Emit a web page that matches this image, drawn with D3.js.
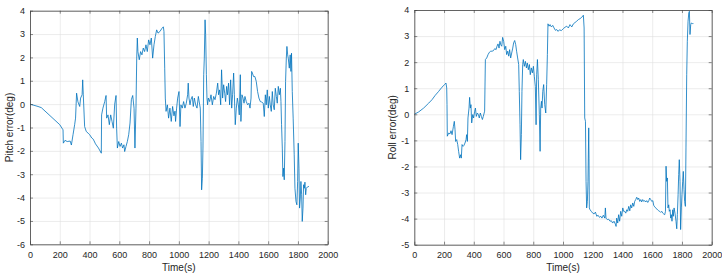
<!DOCTYPE html>
<html lang="en">
<head>
  <meta charset="utf-8">
  <title>Pitch and roll error</title>
  <script src="https://d3js.org/d3.v7.min.js"></script>
  <style type="text/css">
    body { margin: 0; background: #fff; }
    svg text { font-family: "Liberation Sans", Arial, sans-serif; fill: #262626; }
  </style>
</head>
<body>
  <script type="text/javascript">
    // x ticks shared by both panels
    var timeTicks = [0, 200, 400, 600, 800, 1000, 1200, 1400, 1600, 1800, 2000];
    var pitchTicks = [-6, -5, -4, -3, -2, -1, 0, 1, 2, 3, 4];
    var rollTicks = [-5, -4, -3, -2, -1, 0, 1, 2, 3, 4];

    // pitch error
    var pitchTime = [0, 54, 76, 200, 222, 224, 235, 250, 270, 278, 289, 300, 306, 313, 322, 334, 340, 350, 354, 358,
      367, 378, 390, 401, 415, 425, 440, 460, 479, 481, 490, 502, 511, 515, 524, 533, 542, 551, 560, 569,
      578, 582, 587, 596, 605, 614, 622, 631, 636, 645, 654, 663, 672, 681, 690, 699, 705, 712, 717, 721,
      725, 734, 743, 752, 761, 770, 779, 788, 797, 806, 815, 824, 833, 842, 851, 860, 873, 887, 896, 900,
      905, 909, 914, 923, 931, 940, 949, 958, 967, 974, 978, 985, 992, 1001, 1008, 1014, 1023, 1032, 1041, 1050,
      1059, 1063, 1068, 1075, 1081, 1090, 1097, 1104, 1113, 1122, 1131, 1140, 1144, 1149, 1153, 1158, 1162, 1167, 1171, 1176,
      1180, 1185, 1189, 1193, 1198, 1207, 1216, 1225, 1234, 1243, 1252, 1261, 1267, 1274, 1281, 1287, 1294, 1301, 1308, 1314,
      1321, 1327, 1334, 1341, 1348, 1355, 1361, 1368, 1373, 1379, 1386, 1393, 1400, 1406, 1413, 1417, 1424, 1431, 1438, 1444,
      1453, 1462, 1471, 1478, 1485, 1489, 1494, 1502, 1511, 1520, 1529, 1538, 1547, 1556, 1567, 1574, 1581, 1587, 1594, 1601,
      1608, 1614, 1621, 1628, 1634, 1641, 1648, 1655, 1661, 1668, 1675, 1682, 1686, 1690, 1695, 1699, 1704, 1708, 1713, 1717,
      1722, 1726, 1731, 1735, 1742, 1748, 1753, 1757, 1762, 1768, 1775, 1780, 1787, 1793, 1798, 1802, 1807, 1811, 1816, 1820,
      1825, 1829, 1834, 1838, 1843, 1847, 1852, 1856, 1863, 1874];
    var pitchVals = [0, -0.1, -0.15, -0.88, -1.1, -1.67, -1.55, -1.6, -1.58, -1.75, -1.31, -0.88, -0.6, 0.47, 0.1, -0.1, 0.26, 0.4, 1.04, 0.4,
      -0.96, -1.17, -1.24, -1.31, -1.45, -1.5, -1.7, -1.88, -2.1, -0.46, -0.17, 0.11, 0.37, -0.6, -0.46, -0.88, -0.46, -0.74, -1.03, 0.0,
      0.37, -1.03, -1.88, -1.6, -1.81, -1.67, -1.88, -1.74, -2.03, -1.81, -1.6, -1.31, -0.81, 0.19, 0.37, -0.17, -1.88, -0.17, 1.97, 2.83,
      2.25, 1.9, 2.25, 2.11, 2.4, 2.25, 2.54, 2.25, 2.75, 2.54, 2.83, 1.97, 2.54, 2.9, 3.18, 3.04, 3.11, 3.25, 3.31, 3.11,
      1.54, 0.26, -0.31, -0.03, -0.6, -0.17, -0.74, -0.1, -0.5, -0.3, -0.74, -0.17, 0.26, 0.54, -0.96, -0.03, -0.17, 0.11, -0.17, 0.04,
      0.4, 0.9, 0.26, -0.03, 0.19, 0.33, -0.1, 0.26, -0.03, -0.17, 0.33, -0.03, -0.17, -1.6, -3.67, -3.17, -1.88, 1.26, 1.97, 3.61,
      2.97, 1.26, 0.26, -0.03, 0.26, 0.11, 0.4, -0.03, 0.33, 0.19, 0.47, 0.9, 0.4, 0.61, -0.03, 1.47, 0.26, 0.83, 0.47, 0.11,
      0.76, 0.4, 0.9, -0.03, 1.04, -0.17, 0.4, 1.33, 0.4, -0.88, -0.17, 0.26, -0.03, -0.46, 1.26, -0.74, 0.4, 0.26, 0.04, 0.33,
      0.11, -0.03, 0.04, -0.17, 0.26, 1.4, 1.33, 1.18, 1.18, 0.97, 0.54, 0.26, 0.11, 0.09, 0.04, -0.53, 0.4, -0.03, 0.61, -0.17,
      0.33, -0.03, -0.31, 0.54, -0.03, -0.24, 0.68, 0.33, 0.04, 0.76, 0.4, 0.68, 0.11, -0.88, -1.88, -3.1, -2.74, -3.24, -1.6, 0.97,
      1.97, 2.47, 2.11, 1.97, 1.54, 2.11, 1.4, 2.18, 0.54, -0.6, -2.17, -3.6, -4.17, -4.31, -3.31, -1.67, -2.74, -4.45, -4.02, -3.31,
      -3.88, -5.02, -4.45, -3.45, -3.6, -3.34, -3.88, -3.6, -3.55, -3.52];

    // roll error
    var rollTime = [0, 29, 63, 97, 119, 141, 164, 186, 204, 213, 218, 220, 222, 231, 240, 247, 254, 263, 269, 274,
      278, 285, 292, 298, 305, 312, 316, 321, 328, 334, 341, 348, 352, 357, 361, 368, 372, 377, 381, 386,
      393, 399, 406, 411, 417, 424, 431, 437, 444, 451, 458, 464, 473, 478, 487, 496, 505, 514, 523, 532,
      541, 550, 556, 563, 570, 576, 581, 588, 594, 601, 608, 615, 621, 628, 635, 641, 648, 655, 662, 668,
      675, 682, 688, 695, 702, 706, 711, 715, 720, 724, 729, 733, 740, 747, 754, 760, 767, 774, 780, 787,
      794, 801, 807, 814, 819, 823, 828, 834, 841, 846, 850, 855, 859, 864, 870, 877, 884, 890, 895, 899,
      906, 913, 922, 931, 940, 949, 958, 967, 976, 989, 1003, 1014, 1025, 1036, 1047, 1059, 1070, 1081, 1092, 1103,
      1115, 1126, 1137, 1142, 1146, 1151, 1155, 1159, 1164, 1168, 1173, 1175, 1177, 1182, 1190, 1200, 1209, 1218, 1227, 1236,
      1245, 1254, 1262, 1271, 1281, 1285, 1289, 1298, 1307, 1316, 1325, 1334, 1343, 1352, 1357, 1361, 1368, 1374, 1381, 1388,
      1395, 1402, 1408, 1415, 1422, 1429, 1435, 1442, 1449, 1455, 1462, 1469, 1476, 1482, 1489, 1496, 1503, 1509, 1516, 1523,
      1529, 1536, 1543, 1550, 1557, 1563, 1570, 1577, 1583, 1590, 1597, 1604, 1610, 1617, 1624, 1630, 1637, 1644, 1650, 1657,
      1664, 1671, 1677, 1684, 1689, 1693, 1697, 1702, 1706, 1711, 1715, 1720, 1724, 1729, 1733, 1738, 1742, 1747, 1753, 1760,
      1765, 1769, 1774, 1778, 1782, 1787, 1791, 1796, 1800, 1805, 1809, 1814, 1818, 1823, 1827, 1832, 1836, 1841, 1846, 1850,
      1854, 1859, 1863, 1870, 1877];
    var rollVals = [0, 0.09, 0.24, 0.43, 0.56, 0.73, 0.88, 1.04, 1.14, 1.2, 1.01, 0.37, -0.84, -0.72, -0.75, -0.63, -0.78, -0.46, -0.27, -0.59,
      -1.04, -0.97, -1.16, -1.42, -1.68, -1.55, -1.68, -1.16, -1.23, -1.19, -1.1, -0.97, -0.78, -1.04, -0.14, 0.24, 0.65, 0.24, 0.37, -0.33,
      -0.01, -0.14, 0.12, 0.24, -0.08, 0.05, -0.01, -0.14, 0.05, -0.08, -0.2, -0.08, 0.12, 2.1, 2.16, 2.29, 2.38, 2.42, 2.42, 2.44,
      2.52, 2.48, 2.61, 2.7, 2.54, 2.8, 2.67, 2.61, 2.95, 2.8, 2.48, 2.61, 2.29, 2.42, 2.23, 2.48, 2.16, 2.35, 2.54, 2.74,
      2.83, 2.67, 2.42, 2.16, 1.91, 0.88, -0.4, -1.74, -0.78, 0.88, 1.91, 2.1, 1.84, 2.03, 1.78, 1.97, 1.71, 1.91, 1.52, 1.78,
      1.59, 1.84, 1.46, 1.07, -0.4, 1.52, 2.1, 1.33, -0.01, -1.42, 0.24, 0.5, 0.24, 0.88, 1.14, 0.37, 0.05, 1.14, 2.29, 3.47,
      3.38, 3.44, 3.35, 3.41, 3.31, 3.22, 3.25, 3.18, 3.24, 3.21, 3.29, 3.34, 3.38, 3.31, 3.44, 3.35, 3.47, 3.52, 3.57, 3.63,
      3.67, 3.72, 3.8, 3.31, -0.14, -0.27, -2.57, -3.59, -3.34, -2.57, -0.52, -1.68, -3.59, -3.66, -3.72, -3.79, -3.82, -3.75, -3.91, -3.87,
      -3.95, -3.91, -3.98, -3.87, -3.98, -3.59, -3.98, -4.04, -4.02, -4.1, -4.08, -4.17, -4.1, -4.21, -4.3, -3.98, -4.17, -3.85, -4.1, -3.72,
      -3.91, -3.59, -3.72, -3.72, -3.79, -3.66, -3.72, -3.53, -3.7, -3.47, -3.59, -3.4, -3.53, -3.34, -3.27, -3.18, -3.27, -3.21, -3.34, -3.27,
      -3.36, -3.27, -3.34, -3.31, -3.36, -3.31, -3.38, -3.31, -3.21, -3.27, -3.34, -3.31, -3.49, -3.55, -3.59, -3.63, -3.67, -3.7, -3.72, -3.76,
      -3.72, -3.79, -3.82, -3.85, -3.72, -1.99, -2.57, -2.44, -3.59, -3.47, -3.72, -3.66, -3.98, -3.85, -4.1, -3.66, -3.91, -3.59, -3.79, -4.1,
      -4.39, -3.85, -3.08, -2.31, -1.74, -2.57, -4.42, -3.59, -3.08, -2.57, -2.19, -2.89, -3.34, -3.53, -1.29, 1.52, 2.8, 3.57, 3.89, 3.95,
      3.06, 3.44, 3.5, 3.48, 3.48];

    var w = 722;
    var h = 277;

    var svg = d3.select("body")
      .append("svg")
      .attr("width", w)
      .attr("height", h);

    // plain labels: no thousands comma, ascii minus
    var plain = function (d) { return String(d); };

    // draws one MATLAB style axes box with its line
    function drawPanel(box, times, vals, yTicks, yLabel) {
      var x = d3.scaleLinear().domain([0, 2000]).range([box.left, box.right]);
      var y = d3.scaleLinear().domain([yTicks[0], yTicks[yTicks.length - 1]]).range([box.bottom, box.top]);
      var width = box.right - box.left;
      var height = box.bottom - box.top;

      var g = svg.append("g");

      // grid
      g.append("g")
        .attr("transform", "translate(0," + box.bottom + ")")
        .call(d3.axisBottom(x).tickValues(timeTicks).tickSize(-height).tickFormat(""))
        .call(function (a) {
          a.select(".domain").remove();
          a.selectAll("line").attr("stroke", "#dfdfdf").attr("stroke-width", 0.6);
        });
      g.append("g")
        .attr("transform", "translate(" + box.left + ",0)")
        .call(d3.axisLeft(y).tickValues(yTicks).tickSize(-width).tickFormat(""))
        .call(function (a) {
          a.select(".domain").remove();
          a.selectAll("line").attr("stroke", "#dfdfdf").attr("stroke-width", 0.6);
        });

      // data line
      var pts = times.map(function (t, i) { return [t, vals[i]]; });
      g.append("path")
        .datum(pts)
        .attr("fill", "none")
        .attr("stroke", "#0072bd")
        .attr("stroke-width", 0.8)
        .attr("stroke-linejoin", "round")
        .attr("d", d3.line().x(function (d) { return x(d[0]); }).y(function (d) { return y(d[1]); }));

      // axes, ticks pointing inwards on all four sides
      function styleAxis(a) {
        a.select(".domain").attr("stroke", "#404040").attr("stroke-width", 0.8);
        a.selectAll(".tick line").attr("stroke", "#404040").attr("stroke-width", 0.6);
        a.selectAll("text").style("font-size", "9px").attr("fill", "#262626");
      }
      g.append("g")
        .attr("transform", "translate(0," + box.bottom + ")")
        .call(d3.axisBottom(x).tickValues(timeTicks).tickFormat(plain).tickSizeInner(-3).tickSizeOuter(0).tickPadding(7))
        .call(styleAxis);
      g.append("g")
        .attr("transform", "translate(0," + box.top + ")")
        .call(d3.axisTop(x).tickValues(timeTicks).tickSizeInner(-3).tickSizeOuter(0).tickFormat(""))
        .call(styleAxis);
      g.append("g")
        .attr("transform", "translate(" + box.left + ",0)")
        .call(d3.axisLeft(y).tickValues(yTicks).tickFormat(plain).tickSizeInner(-3).tickSizeOuter(0).tickPadding(5))
        .call(styleAxis);
      g.append("g")
        .attr("transform", "translate(" + box.right + ",0)")
        .call(d3.axisRight(y).tickValues(yTicks).tickSizeInner(-3).tickSizeOuter(0).tickFormat(""))
        .call(styleAxis);

      // labels
      g.append("text")
        .attr("x", (box.left + box.right) / 2)
        .attr("y", 271)
        .attr("text-anchor", "middle")
        .style("font-size", "10px")
        .text("Time(s)");
      g.append("text")
        .attr("transform", "translate(" + box.yLabelX + "," + (box.top + box.bottom) / 2 + ") rotate(-90)")
        .attr("text-anchor", "middle")
        .style("font-size", "10px")
        .text(yLabel);
    }

    drawPanel({ left: 30, right: 327.7, top: 10.7, bottom: 244.3, yLabelX: 13 },
      pitchTime, pitchVals, pitchTicks, "Pitch error(deg)");
    drawPanel({ left: 414.3, right: 711.7, top: 10, bottom: 244.7, yLabelX: 396 },
      rollTime, rollVals, rollTicks, "Roll error(deg)");
  </script>
</body>
</html>
